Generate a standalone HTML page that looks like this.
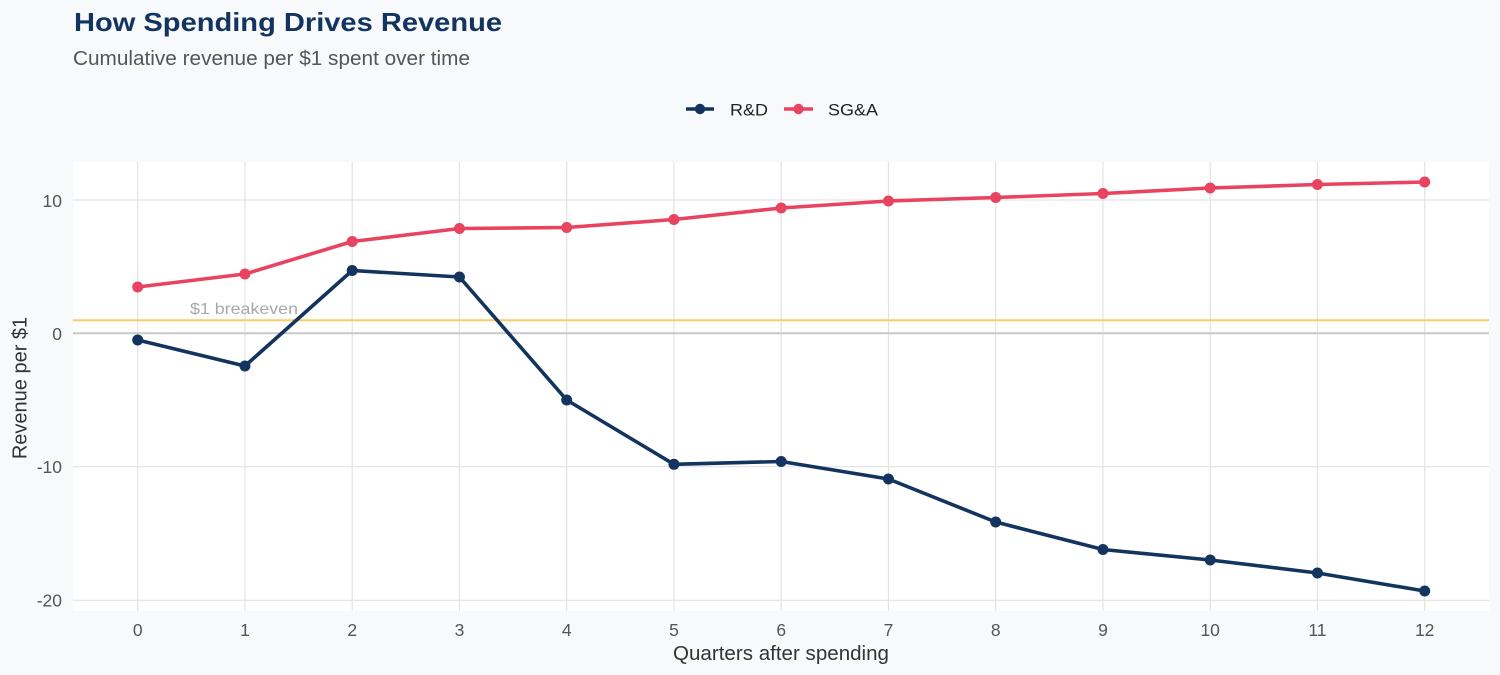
<!DOCTYPE html>
<html>
<head>
<meta charset="utf-8">
<style>
  html, body { margin:0; padding:0; background:#f8f9fb; }
  svg { display:block; }
  text { font-family: "Liberation Sans", Arial, sans-serif; }
</style>
</head>
<body>
<svg width="1500" height="675" viewBox="0 0 1500 675" xmlns="http://www.w3.org/2000/svg">
  <rect x="0" y="0" width="1500" height="675" fill="#f8f9fb"/>

  <!-- Title & subtitle -->
  <text x="74" y="31" font-size="26" font-weight="bold" fill="#12345e" textLength="428" lengthAdjust="spacingAndGlyphs">How Spending Drives Revenue</text>
  <text x="73" y="65" font-size="20" fill="#555555" textLength="397" lengthAdjust="spacingAndGlyphs">Cumulative revenue per $1 spent over time</text>

  <!-- Legend -->
  <line x1="686" y1="109" x2="714" y2="109" stroke="#12345e" stroke-width="3.5"/>
  <circle cx="700" cy="109" r="5.2" fill="#12345e"/>
  <text x="730" y="115.5" font-size="17" fill="#222222" textLength="38" lengthAdjust="spacingAndGlyphs">R&amp;D</text>
  <line x1="784" y1="109" x2="813" y2="109" stroke="#e8445f" stroke-width="3.5"/>
  <circle cx="798.5" cy="109" r="5.2" fill="#e8445f"/>
  <text x="828" y="115.5" font-size="17" fill="#222222" textLength="50" lengthAdjust="spacingAndGlyphs">SG&amp;A</text>

  <!-- Panel -->
  <rect x="73" y="162" width="1416" height="449" fill="#ffffff"/>

  <!-- grid lines -->
  <g stroke="#e3e3e3" stroke-width="1.2">
    <line x1="73" y1="200" x2="1489" y2="200"/>
    <line x1="73" y1="466.7" x2="1489" y2="466.7"/>
    <line x1="73" y1="600.3" x2="1489" y2="600.3"/>
    <line x1="137.7" y1="162" x2="137.7" y2="611"/>
    <line x1="244.95" y1="162" x2="244.95" y2="611"/>
    <line x1="352.2" y1="162" x2="352.2" y2="611"/>
    <line x1="459.45" y1="162" x2="459.45" y2="611"/>
    <line x1="566.7" y1="162" x2="566.7" y2="611"/>
    <line x1="673.95" y1="162" x2="673.95" y2="611"/>
    <line x1="781.2" y1="162" x2="781.2" y2="611"/>
    <line x1="888.45" y1="162" x2="888.45" y2="611"/>
    <line x1="995.7" y1="162" x2="995.7" y2="611"/>
    <line x1="1102.95" y1="162" x2="1102.95" y2="611"/>
    <line x1="1210.2" y1="162" x2="1210.2" y2="611"/>
    <line x1="1317.45" y1="162" x2="1317.45" y2="611"/>
    <line x1="1424.7" y1="162" x2="1424.7" y2="611"/>
  </g>

  <!-- zero line -->
  <line x1="73" y1="333.3" x2="1489" y2="333.3" stroke="#c9c9c9" stroke-width="2"/>
  <!-- breakeven line -->
  <line x1="73" y1="320.3" x2="1489" y2="320.3" stroke="#f7cd68" stroke-width="2"/>
  <text x="190" y="314" font-size="16" fill="#a8a8a8" textLength="108" lengthAdjust="spacingAndGlyphs">$1 breakeven</text>

  <!-- SG&A series -->
  <polyline fill="none" stroke="#e8445f" stroke-width="3.6" stroke-linejoin="round" stroke-linecap="round"
    points="137.7,287 244.95,274 352.2,241.5 459.45,228.5 566.7,227.5 673.95,219.5 781.2,208 888.45,201 995.7,197.5 1102.95,193.5 1210.2,188 1317.45,184.5 1424.7,182"/>
  <g fill="#e8445f">
    <circle cx="137.7" cy="287" r="5.5"/>
    <circle cx="244.95" cy="274" r="5.5"/>
    <circle cx="352.2" cy="241.5" r="5.5"/>
    <circle cx="459.45" cy="228.5" r="5.5"/>
    <circle cx="566.7" cy="227.5" r="5.5"/>
    <circle cx="673.95" cy="219.5" r="5.5"/>
    <circle cx="781.2" cy="208" r="5.5"/>
    <circle cx="888.45" cy="201" r="5.5"/>
    <circle cx="995.7" cy="197.5" r="5.5"/>
    <circle cx="1102.95" cy="193.5" r="5.5"/>
    <circle cx="1210.2" cy="188" r="5.5"/>
    <circle cx="1317.45" cy="184.5" r="5.5"/>
    <circle cx="1424.7" cy="182" r="5.5"/>
  </g>

  <!-- R&D series -->
  <polyline fill="none" stroke="#12345e" stroke-width="3.6" stroke-linejoin="round" stroke-linecap="round"
    points="137.7,340 244.95,366 352.2,270.5 459.45,277 566.7,400 673.95,464.3 781.2,461.5 888.45,479 995.7,522 1102.95,549.5 1210.2,560 1317.45,573 1424.7,591"/>
  <g fill="#12345e">
    <circle cx="137.7" cy="340" r="5.5"/>
    <circle cx="244.95" cy="366" r="5.5"/>
    <circle cx="352.2" cy="270.5" r="5.5"/>
    <circle cx="459.45" cy="277" r="5.5"/>
    <circle cx="566.7" cy="400" r="5.5"/>
    <circle cx="673.95" cy="464.3" r="5.5"/>
    <circle cx="781.2" cy="461.5" r="5.5"/>
    <circle cx="888.45" cy="479" r="5.5"/>
    <circle cx="995.7" cy="522" r="5.5"/>
    <circle cx="1102.95" cy="549.5" r="5.5"/>
    <circle cx="1210.2" cy="560" r="5.5"/>
    <circle cx="1317.45" cy="573" r="5.5"/>
    <circle cx="1424.7" cy="591" r="5.5"/>
  </g>

  <!-- Y tick labels -->
  <g font-size="17.5" fill="#555555" text-anchor="end">
    <text x="62" y="207">10</text>
    <text x="62" y="340">0</text>
    <text x="62" y="473">-10</text>
    <text x="62" y="606.5">-20</text>
  </g>

  <!-- X tick labels -->
  <g font-size="17.5" fill="#555555" text-anchor="middle">
    <text x="137.7" y="636">0</text>
    <text x="244.95" y="636">1</text>
    <text x="352.2" y="636">2</text>
    <text x="459.45" y="636">3</text>
    <text x="566.7" y="636">4</text>
    <text x="673.95" y="636">5</text>
    <text x="781.2" y="636">6</text>
    <text x="888.45" y="636">7</text>
    <text x="995.7" y="636">8</text>
    <text x="1102.95" y="636">9</text>
    <text x="1210.2" y="636">10</text>
    <text x="1317.45" y="636">11</text>
    <text x="1424.7" y="636">12</text>
  </g>

  <!-- Axis titles -->
  <text x="781" y="660" font-size="20" fill="#333333" text-anchor="middle" textLength="216" lengthAdjust="spacingAndGlyphs">Quarters after spending</text>
  <text transform="translate(26.5,388) rotate(-90)" font-size="20" fill="#333333" text-anchor="middle">Revenue per $1</text>
</svg>
</body>
</html>
